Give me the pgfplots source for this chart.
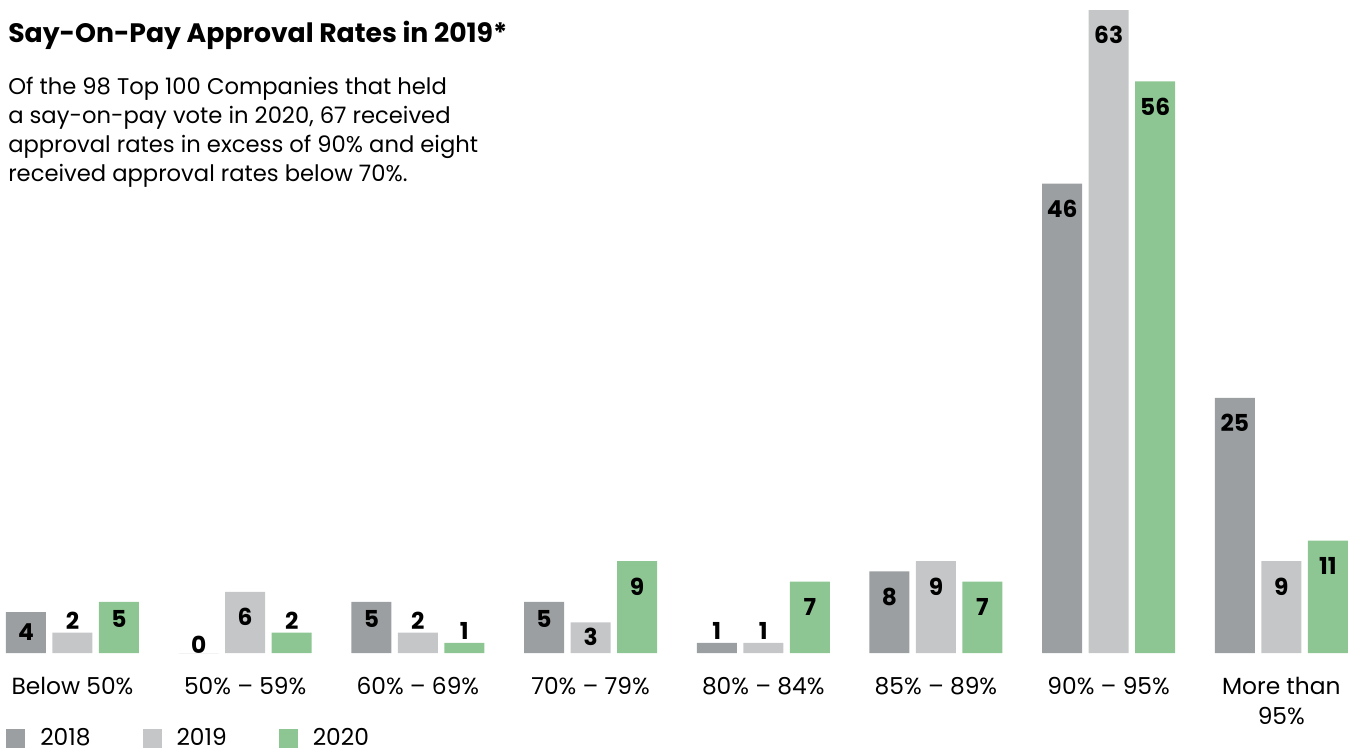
\documentclass[border=0pt]{standalone}
\usepackage{pgfplots}
\pgfplotsset{compat=1.18}
\usepackage{fontspec}
\setmainfont{Poppins}
\definecolor{c18}{HTML}{9B9FA1}
\definecolor{c19}{HTML}{C5C6C7}
\definecolor{c20}{HTML}{8DC692}
\pgfplotsset{sq legend/.style={legend image code/.code={\fill[##1] (0pt,-7.1pt) rectangle (14.25pt,7.1pt);}}}
\begin{document}
\begin{tikzpicture}
\useasboundingbox (0,0) rectangle (1011pt,-564.75pt);
\begin{axis}[
  at={(4.5pt,-489.75pt)}, anchor=south west,
  scale only axis, width=1006.4pt, height=482.25pt,
  xmin=-0.385, xmax=7.385, ymin=0, ymax=63,
  ybar=4.875pt, bar width=30pt,
  axis line style={draw=none},
  tick style={draw=none},
  ytick=\empty,
  xtick={0,...,7},
  xticklabels={Below 50\%, 50\% -- 59\%, 60\% -- 69\%, 70\% -- 79\%, 80\% -- 84\%, 85\% -- 89\%, 90\% -- 95\%, {More than\\95\%}},
  xticklabel style={align=center, anchor=north, inner sep=0pt, yshift=-13.5pt, font=\fontsize{17.5}{22.5}\selectfont},
  clip=false,
  /pgf/number format/assume math mode=true,
  nodes near coords={\pgfmathprintnumber{\pgfplotspointmeta}},
  visualization depends on=y \as \rawy,
  every node near coord/.append style={font=\fontsize{17.5}{17.5}\selectfont\bfseries, black, anchor=center,
     yshift={\rawy>5.5 ? -19 : (\rawy>4.5 ? -13 : (\rawy>3.5 ? -15 : (\rawy>2.5 ? -11 : (\rawy<0.5 ? 6 : 8.5))))}},
  legend columns=3,
  legend style={at={(0,0)}, anchor=west, yshift=-64pt, draw=none, fill=none, inner sep=0pt,
    font=\fontsize{17.5}{18}\selectfont, nodes={inner sep=0pt},
    /tikz/every odd column/.append style={column sep=11.25pt},
    /tikz/every even column/.append style={column sep=39pt}},
]
\addplot[fill=c18, draw=none, sq legend] coordinates {(0,4) (1,0) (2,5) (3,5) (4,1) (5,8) (6,46) (7,25)};
\addplot[fill=c19, draw=none, sq legend] coordinates {(0,2) (1,6) (2,2) (3,3) (4,1) (5,9) (6,63) (7,9)};
\addplot[fill=c20, draw=none, sq legend] coordinates {(0,5) (1,2) (2,1) (3,9) (4,7) (5,7) (6,56) (7,11)};
\legend{2018,2019,2020}
\end{axis}
\node[anchor=base west, inner sep=0pt, font=\fontsize{20}{22}\selectfont\bfseries] at (6pt,-31.5pt) {Say-On-Pay Approval Rates in 2019*};
\node[anchor=base west, inner sep=0pt, font=\fontsize{17}{20}\selectfont] at (6pt,-70.5pt) {Of the 98 Top 100 Companies that held};
\node[anchor=base west, inner sep=0pt, font=\fontsize{17}{20}\selectfont] at (6pt,-92.25pt) {a say-on-pay vote in 2020, 67 received};
\node[anchor=base west, inner sep=0pt, font=\fontsize{17}{20}\selectfont] at (6pt,-114pt) {approval rates in excess of 90\% and eight};
\node[anchor=base west, inner sep=0pt, font=\fontsize{17}{20}\selectfont] at (6pt,-135.75pt) {received approval rates below 70\%.};
\end{tikzpicture}
\end{document}
